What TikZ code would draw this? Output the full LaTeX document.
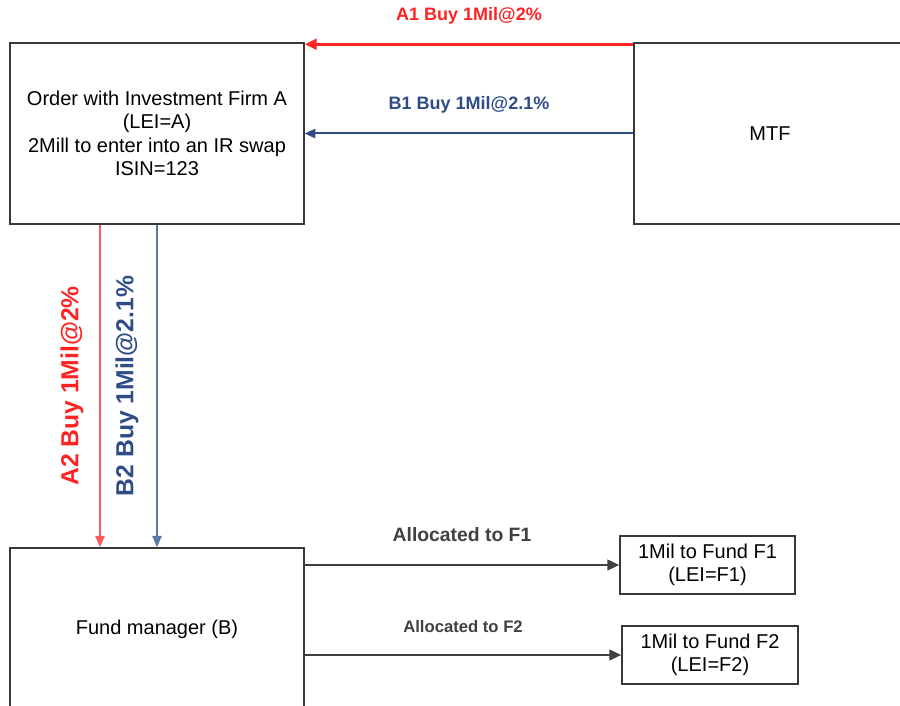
\documentclass[tikz,border=0pt]{standalone}
\usepackage{fontspec}
\setmainfont{Liberation Sans}
\usetikzlibrary{arrows.meta}
\definecolor{ordred}{HTML}{FF2424}
\definecolor{lightred}{HTML}{FF5A5A}
\definecolor{ordblue}{HTML}{2F4C86}
\definecolor{lightblue}{HTML}{5878A8}
\definecolor{boxgray}{HTML}{383838}
\definecolor{arrgray}{HTML}{404040}

\begin{document}
\begin{tikzpicture}[x=.75pt, y=-.75pt,
        box/.style={draw=boxgray, line width=1.1pt, align=center, inner sep=0pt,
            font=\fontsize{15}{17.5}\selectfont},
        lbl/.style={font=\bfseries\fontsize{13.5}{16}\selectfont},
        vlbl/.style={font=\bfseries\fontsize{18.5}{22}\selectfont, rotate=90}]
    \useasboundingbox (0, 0) rectangle (900, 706);
    % boxes
    \node [box, minimum width=220.5pt, minimum height=135.75pt] (firm) at (157, 133.5)
        {Order with Investment Firm A\\(LEI=A)\\2Mill to enter into an IR swap\\ISIN=123};
    \node [box, minimum width=204pt, minimum height=135.75pt] (mtf) at (770, 133.5) {MTF};
    \node [box, minimum width=220.5pt, minimum height=121.5pt] (fund) at (157, 629)
        {Fund manager (B)};
    \node [box, minimum width=131.25pt, minimum height=43.5pt] (fone) at (707.5, 565)
        {1Mil to Fund F1\\(LEI=F1)};
    \node [box, minimum width=132pt, minimum height=43.5pt] (ftwo) at (710, 655)
        {1Mil to Fund F2\\(LEI=F2)};
    % MTF to firm
    \draw [ordred, line width=2.2pt, -{Triangle[length=9pt, width=8pt]}]
        ([yshift=-1.5pt]mtf.north west) -- ([yshift=-1.5pt]firm.north east)
        node [lbl, midway, yshift=21pt] (aone) {A1 Buy 1Mil@2\%};
    \draw [ordblue, line width=1.5pt, -{Triangle[length=8pt, width=7pt]}]
        (mtf.west) -- (firm.east)
        node [lbl, midway, yshift=21.5pt] (bone) {B1 Buy 1Mil@2.1\%};
    % firm to fund manager
    \draw [lightred, line width=1pt, -{Triangle[length=8.5pt, width=7pt]}]
        ([xshift=-42.75pt]firm.south) -- ([xshift=-42.75pt]fund.north)
        node [xshift=-21pt, vlbl, ordred, midway] (atwo) {A2 Buy 1Mil@2\%};
    \draw [lightblue, line width=1pt, -{Triangle[length=8.5pt, width=7pt]}]
        (firm.south) -- (fund.north)
        node [xshift=-22.5pt, vlbl, ordblue, midway] (btwo) {B2 Buy 1Mil@2.1\%};
    % allocations
    \draw [arrgray, line width=1.8pt, -{Triangle[length=9pt, width=8pt]}]
        (fund.east |- fone.west) -- (fone.west)
        node [midway, yshift=22.5pt, font=\bfseries\fontsize{14.5}{17}\selectfont] (allone)
        {Allocated to F1};
    \draw [arrgray, line width=1.8pt, -{Triangle[length=9pt, width=8pt]}]
        (fund.east |- ftwo.west) -- (ftwo.west)
        node [midway, yshift=21pt, font=\bfseries\fontsize{12.5}{15}\selectfont] (alltwo)
        {Allocated to F2};
\end{tikzpicture}
\end{document}
